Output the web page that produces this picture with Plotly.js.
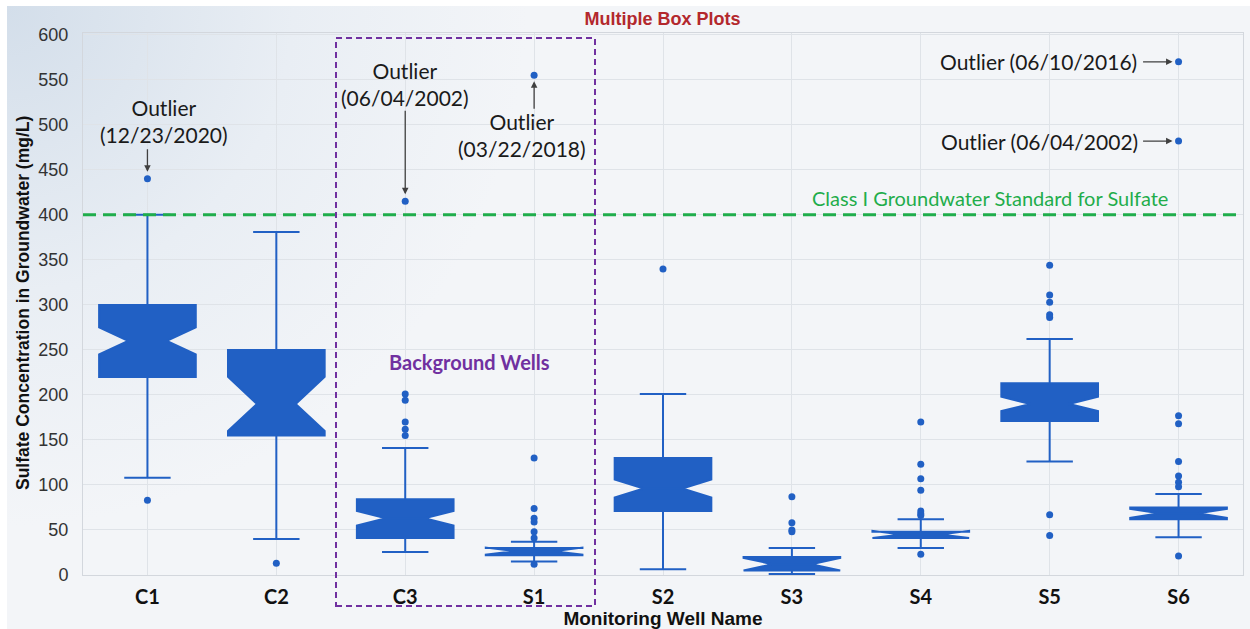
<!DOCTYPE html>
<html>
<head>
<meta charset="utf-8">
<script src="https://cdn.plot.ly/plotly-3.0.1.min.js"></script>
<style>html,body{margin:0;padding:0;background:#fff;}#chart{width:1250px;height:629px;}</style>
</head>
<body>
<div id="chart"></div>
<script>
const wells = ['C1','C2','C3','S1','S2','S3','S4','S5','S6'];
const q1Vals = [220, 155, 41, 22, 71, 5, 41, 171, 62];
const medianVals = [260, 190, 63, 26.5, 96, 12, 45, 190, 68.5];
const q3Vals = [300, 250, 84, 30, 130, 20, 48, 213, 75];
const lowerFenceVals = [108, 40, 25.5, 15, 6.5, 1, 30, 126, 42];
const upperFenceVals = [400, 381, 141, 37, 201, 30, 62, 262, 90];
const notchSpanVals = [15, 30, 8, 4, 10, 7, 4, 8, 5];

const outlierWell = ['C1','C1','C2',
  'C3','C3','C3','C3','C3','C3',
  'S1','S1','S1','S1','S1','S1','S1','S1',
  'S2',
  'S3','S3','S3','S3',
  'S4','S4','S4','S4','S4','S4','S4','S4',
  'S5','S5','S5','S5','S5','S5','S5',
  'S6','S6','S6','S6','S6','S6','S6','S6','S6'];
const outlierValue = [440, 83, 13,
  415, 201, 194, 170, 162, 155,
  555, 130, 74, 63, 59, 48, 41, 12,
  340,
  87, 58, 50, 48,
  170, 123, 107, 94, 71, 68, 66, 23,
  344, 311, 303, 289, 286, 67, 44,
  570, 482, 177, 168, 126, 110, 103, 98, 21];

const standardValue = 400;
const blue = '#2160c4';
const annFont = {family: 'Lato, "Open Sans", sans-serif', size: 21, color: '#1a1a1a'};
const arrowColor = '#404040';

const boxTrace = {
  type: 'box',
  x: wells,
  q1: q1Vals,
  median: medianVals,
  q3: q3Vals,
  lowerfence: lowerFenceVals,
  upperfence: upperFenceVals,
  notchspan: notchSpanVals,
  notched: true,
  notchwidth: 0.3,
  width: 0.75,
  boxpoints: false,
  whiskerwidth: 0.48,
  fillcolor: blue,
  line: {color: blue, width: 2},
  showlegend: false,
  hoverinfo: 'skip'
};
const outlierTrace = {
  type: 'scatter',
  mode: 'markers',
  x: outlierWell,
  y: outlierValue,
  marker: {color: blue, size: 7},
  showlegend: false,
  hoverinfo: 'skip'
};

function arrowAnn(x, y, ax, ay, standoff) {
  return {x: x, y: y, xref: 'x', yref: 'y', text: '', showarrow: true,
    ax: ax, ay: ay, arrowhead: 2, arrowsize: 1, arrowwidth: 1.3,
    arrowcolor: arrowColor, standoff: standoff};
}
function textAnn(x, y, text, opts) {
  return Object.assign({x: x, y: y, xref: 'x', yref: 'y', text: text, showarrow: false,
    font: annFont, xanchor: 'center', yanchor: 'middle'}, opts || {});
}

const bgSvg = "<svg xmlns='http://www.w3.org/2000/svg' width='1243' height='623'>" +
  "<defs><radialGradient id='g' cx='0' cy='0' r='520' gradientUnits='userSpaceOnUse'>" +
  "<stop offset='0' stop-color='#d3deea'/><stop offset='0.55' stop-color='#e9eef4'/><stop offset='1' stop-color='#f3f5f8'/>" +
  "</radialGradient></defs><rect width='1243' height='623' fill='#f3f5f8'/><rect width='1243' height='623' fill='url(#g)'/></svg>";

const layout = {
  width: 1250, height: 629,
  margin: {l: 83, r: 7, t: 33, b: 54},
  paper_bgcolor: '#ffffff',
  plot_bgcolor: '#f3f5f8',
  title: {text: '<b>Multiple Box Plots</b>', font: {family: 'Arial, "Liberation Sans", sans-serif', size: 18, color: '#b3282d'},
    x: 0.53, xref: 'container', y: 0.971, yref: 'container', xanchor: 'center', yanchor: 'middle'},
  xaxis: {
    type: 'category',
    categoryorder: 'array', categoryarray: wells,
    range: [-0.5, 8.5],
    showgrid: true, gridcolor: '#dfe3e8', gridwidth: 1,
    showline: true, linecolor: '#d3d7dd', mirror: true,
    ticks: '', ticklabelstandoff: 4,
    tickfont: {family: 'Lato, "Open Sans", sans-serif', size: 20, color: '#111', weight: 'bold'},
    title: {text: '<b>Monitoring Well Name</b>', standoff: 2,
      font: {family: 'Arial, "Liberation Sans", sans-serif', size: 19, color: '#111'}}
  },
  yaxis: {
    range: [0, 602],
    tickvals: [0,50,100,150,200,250,300,350,400,450,500,550,600],
    showgrid: true, gridcolor: '#dfe3e8', gridwidth: 1,
    zeroline: false,
    showline: true, linecolor: '#d3d7dd', mirror: true,
    ticks: '', ticklabelstandoff: 10,
    tickfont: {family: 'Arial, "Liberation Sans", sans-serif', size: 18, color: '#333'}
  },
  images: [{
    source: 'data:image/svg+xml;charset=utf-8,' + encodeURIComponent(bgSvg),
    xref: 'paper', yref: 'paper', x: -76/1160, y: 1 + 27/542,
    sizex: 1243/1160, sizey: 623/542, sizing: 'stretch',
    xanchor: 'left', yanchor: 'top', layer: 'below'
  }],
  shapes: [
    {type: 'line', xref: 'paper', yref: 'y', x0: 0, x1: 1, y0: standardValue, y1: standardValue,
      line: {color: '#1fad4b', width: 3, dash: '13px,7px'}},
    {type: 'rect', xref: 'paper', yref: 'paper',
      x0: (336-83)/1160, x1: (595-83)/1160, y0: (575-606)/542, y1: (575-38)/542,
      line: {color: '#7030a0', width: 2, dash: '6px,4px'}, fillcolor: 'rgba(0,0,0,0)'}
  ],
  annotations: [
    {xref: 'paper', yref: 'paper', x: (23-83)/1160, y: (575-303)/542, textangle: -90,
      text: '<b>Sulfate Concentration in Groundwater (mg/L)</b>', showarrow: false,
      xanchor: 'center', yanchor: 'middle',
      font: {family: 'Arial, "Liberation Sans", sans-serif', size: 17.5, color: '#111'}},
    textAnn('C1', 504, 'Outlier<br>(12/23/2020)', {xshift: 17}),
    arrowAnn('C1', 440, 0, -31, 7),
    textAnn('C3', 545, 'Outlier<br>(06/04/2002)'),
    arrowAnn('C3', 415, 0, -92, 7),
    textAnn('S1', 489, 'Outlier<br>(03/22/2018)', {xshift: -12}),
    arrowAnn('S1', 555, 0, 35, 6),
    textAnn('S6', 570, 'Outlier (06/10/2016)', {xanchor: 'right', xshift: -40}),
    arrowAnn('S6', 570, -37, 0, 6),
    textAnn('S6', 482, 'Outlier (06/04/2002)', {xanchor: 'right', xshift: -39}),
    arrowAnn('S6', 482, -37, 0, 6),
    textAnn(6.54, 419, 'Class I Groundwater Standard for Sulfate', {font: {family: annFont.family, size: 20, color: '#1fad4b'}}),
    textAnn(2.5, 237, '<b>Background Wells</b>', {font: {family: annFont.family, size: 20, color: '#7030a0'}})
  ]
};

Plotly.newPlot('chart', [boxTrace, outlierTrace], layout, {displayModeBar: false, staticPlot: true});
</script>
</body>
</html>
